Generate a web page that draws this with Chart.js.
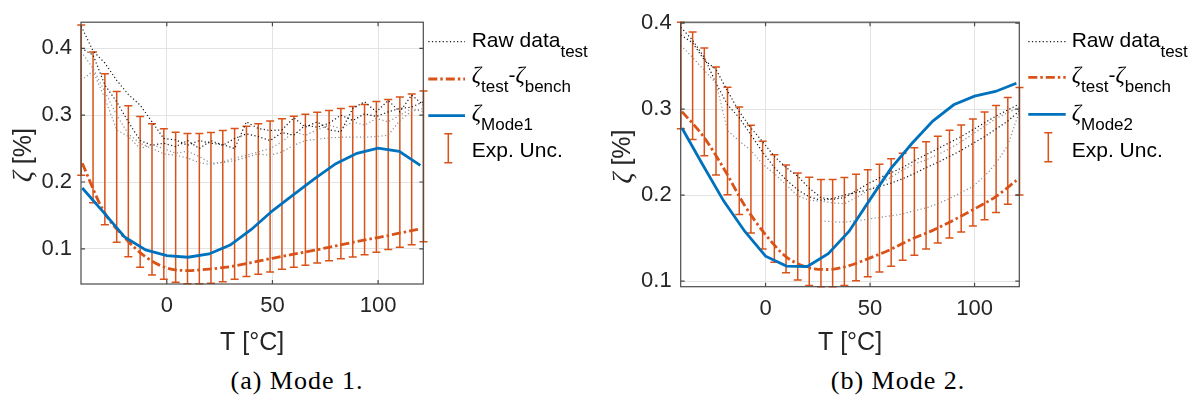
<!DOCTYPE html>
<html>
<head>
<meta charset="utf-8">
<script src="https://cdn.jsdelivr.net/npm/chart.js@4.4.1/dist/chart.umd.min.js"></script>
<style>
  html, body { margin: 0; padding: 0; background: #fff; }
  #wrap { position: relative; width: 1197px; height: 406px; overflow: hidden; }
  #wrap canvas { position: absolute; top: 0; }
  .cap {
    position: absolute; top: 368px; line-height: 26px;
    font-family: "Liberation Serif", "Times New Roman", serif;
    font-size: 26px; letter-spacing: 1px; color: #000;
    white-space: nowrap; transform: translateX(-50%);
  }
</style>
</head>
<body>
<div id="wrap">
  <canvas id="mode1" width="598" height="360" style="left:0px"></canvas>
  <canvas id="mode2" width="599" height="360" style="left:598px"></canvas>
  <div class="cap" style="left:297px">(a) Mode 1.</div>
  <div class="cap" style="left:898px">(b) Mode 2.</div>
</div>
<script>
// temperatures of the measurements / error bars
const temps = [-40.5, -34.9, -29.3, -23.7, -18.2, -12.6, -7.0, -1.4, 4.2, 9.8,
  15.4, 20.9, 26.5, 32.1, 37.7, 43.3, 48.9, 54.5, 60.1, 65.6,
  71.2, 76.8, 82.4, 88.0, 93.6, 99.2, 104.8, 110.3, 115.9, 121.5];
// temperatures of the model / difference curves
const modelTemps = [-40, -30, -20, -10, 0, 10, 20, 30, 40, 50, 60, 70, 80, 90, 100, 110, 120];

const xTicks = [0, 50, 100];
const xTickLabels = ["0", "50", "100"];
const yTicks = [0.1, 0.2, 0.3, 0.4];
const yTickLabels = ["0.1", "0.2", "0.3", "0.4"];

// Mode 1
const m1RawA = [0.433, 0.396, 0.378, 0.352, 0.331, 0.315, 0.290, 0.265, 0.263, 0.255,
  0.262, 0.258, 0.256, 0.250, 0.290, 0.280, 0.277, 0.278, 0.296, 0.282,
  0.290, 0.278, 0.275, 0.310, 0.320, 0.305, 0.322, 0.305, 0.330, 0.315];
const m1RawB = [0.352, 0.366, 0.325, 0.278, 0.268, 0.250, 0.256, 0.250, 0.243, 0.246,
  0.238, 0.228, 0.229, 0.232, 0.237, 0.242, 0.240, 0.245, 0.255, 0.262,
  0.264, 0.266, 0.267, 0.267, 0.267, 0.268, 0.270, 0.292, 0.306, 0.310];
const m1RawC = [0.400, 0.390, 0.345, 0.320, 0.290, 0.262, 0.255, 0.258, 0.253, 0.262,
  0.250, 0.262, 0.255, 0.265, 0.272, 0.268, 0.262, 0.274, 0.270, 0.285,
  0.282, 0.288, 0.300, 0.292, 0.302, 0.298, 0.305, 0.310, 0.312, 0.320];
const m1RawD = [0.395, 0.370, 0.335, 0.300, 0.272, 0.258, 0.250, 0.242, 0.240, 0.236,
  0.229, 0.226, 0.230, 0.236, 0.240, 0.245, 0.250, 0.260, 0.275, 0.270,
  0.278, 0.285, 0.280, 0.290, 0.285, 0.295, 0.290, 0.300, 0.310, 0.305];
const m1Diff = [0.228, 0.157, 0.117, 0.088, 0.0715, 0.0676, 0.0698, 0.0735, 0.0795,
  0.086, 0.092, 0.098, 0.1045, 0.111, 0.117, 0.1235, 0.130];
const m1Model = [0.191, 0.155, 0.118, 0.0985, 0.090, 0.0875, 0.0924, 0.1058, 0.129,
  0.157, 0.181, 0.205, 0.2274, 0.243, 0.2506, 0.246, 0.2249];
const m1UncHigh = [0.4347, 0.3945, 0.362, 0.3354, 0.314, 0.2978, 0.287, 0.2796, 0.2744, 0.2725,
  0.2725, 0.274, 0.277, 0.280, 0.2834, 0.287, 0.2914, 0.2948, 0.2982, 0.3012,
  0.3042, 0.3071, 0.3101, 0.3131, 0.316, 0.3205, 0.3235, 0.327, 0.3315, 0.336];
const m1UncLow = [0.210, 0.169, 0.136, 0.110, 0.0884, 0.0726, 0.061, 0.0547, 0.0503, 0.048,
  0.048, 0.0488, 0.0507, 0.0547, 0.0586, 0.0622, 0.0656, 0.0696, 0.0726, 0.0756,
  0.079, 0.0824, 0.0854, 0.088, 0.0914, 0.095, 0.099, 0.1024, 0.1063, 0.1107];

// Mode 2
const m2RawA = [0.386, 0.377, 0.357, 0.346, 0.321, 0.297, 0.278, 0.262, 0.245, 0.232,
  0.222, 0.208, 0.197, 0.195, 0.197, 0.205, 0.213, 0.220, 0.226, 0.232,
  0.240, 0.247, 0.254, 0.261, 0.268, 0.276, 0.284, 0.292, 0.299, 0.306];
const m2RawB = [0.374, 0.360, 0.345, 0.330, 0.275, 0.263, 0.252, 0.236, 0.225, 0.212,
  0.199, 0.194, 0.193, 0.191, 0.190, 0.197, 0.205, 0.213, 0.221, 0.229,
  0.236, 0.241, 0.247, 0.254, 0.262, 0.271, 0.280, 0.289, 0.296, 0.302];
const m2RawC = [0.395, 0.380, 0.360, 0.330, 0.305, 0.290, 0.270, 0.250, 0.232, 0.218,
  0.206, 0.198, 0.194, 0.196, 0.200, 0.203, 0.206, 0.210, 0.214, 0.219,
  0.225, 0.232, 0.238, 0.245, 0.252, 0.260, 0.268, 0.277, 0.286, 0.298];
const m2RawD = [null, null, null, null, null, null, null, null, null, null,
  null, null, 0.170, 0.169, 0.1685, 0.170, 0.172, 0.174, 0.176, 0.178,
  0.182, 0.185, 0.190, 0.196, 0.203, 0.210, 0.222, 0.237, 0.258, 0.298];
const m2Diff = [0.297, 0.269, 0.231, 0.188, 0.154, 0.128, 0.116, 0.1135, 0.118,
  0.127, 0.137, 0.149, 0.159, 0.171, 0.184, 0.198, 0.217];
const m2Model = [0.278, 0.235, 0.193, 0.158, 0.129, 0.1175, 0.117, 0.132, 0.158,
  0.195, 0.231, 0.260, 0.286, 0.305, 0.315, 0.3205, 0.330];
const m2UncHigh = [0.401, 0.3896, 0.371, 0.3488, 0.3254, 0.3023, 0.2812, 0.2627, 0.247, 0.235,
  0.2258, 0.2208, 0.2181, 0.2181, 0.2204, 0.2243, 0.2296, 0.2358, 0.2423, 0.2485,
  0.255, 0.262, 0.2685, 0.2754, 0.2815, 0.2885, 0.2965, 0.3042, 0.3135, 0.325];
const m2UncLow = [0.277, 0.2646, 0.2458, 0.2235, 0.2004, 0.1774, 0.156, 0.1374, 0.122, 0.1097,
  0.1012, 0.095, 0.0935, 0.0935, 0.095, 0.1005, 0.105, 0.1105, 0.1174, 0.1243,
  0.130, 0.1374, 0.1443, 0.150, 0.157, 0.164, 0.1712, 0.1797, 0.1893, 0.200];

const ORANGE = "#D95319";
const BLUE = "#0072BD";
const AXIS = "#262626";
const SANS = '"Liberation Sans", Arial, Helvetica, sans-serif';
const SERIF = '"Liberation Serif", "Times New Roman", serif';
const DASHDOT = [9, 3, 2.5, 3];
const DOTTED = [1.2, 2.4];

Chart.defaults.font.family = SANS;
Chart.defaults.color = AXIS;

const pts = (xs, ys) => xs.map((x, i) => ({ x, y: ys[i] }));

// text pieces: plain, subscript, or greek (serif italic)
function fontFor(p, size) {
  if (p.sub) return "17px " + SANS;
  if (p.greek) return "italic " + (size + 2) + "px " + SERIF;
  return size + "px " + SANS;
}
function richText(ctx, parts, x, y, size) {
  let cx = x;
  for (const p of parts) {
    ctx.font = fontFor(p, size);
    ctx.fillText(p.t, cx, p.sub ? y + 10 : y);
    cx += ctx.measureText(p.t).width;
  }
  return cx - x;
}
function richWidth(ctx, parts, size) {
  let w = 0;
  for (const p of parts) { ctx.font = fontFor(p, size); w += ctx.measureText(p.t).width; }
  return w;
}

function makeChart(id, cfg) {
  const rawColors = ["#1a1a1a", "#8c8c8c", "#1a1a1a", "#8c8c8c"];
  const rawSets = cfg.raw.map((r, i) => ({
    data: pts(temps, r),
    borderColor: rawColors[i],
    borderWidth: 1.2,
    borderDash: DOTTED,
    spanGaps: false
  }));

  const chartPlugin = {
    id: "matlabLook",
    beforeDatasetsDraw(chart) {
      const { ctx, scales: { x, y } } = chart;
      ctx.save();
      ctx.strokeStyle = ORANGE;
      ctx.lineWidth = 1.5;
      temps.forEach((t, i) => {
        const px = x.getPixelForValue(t);
        const pHi = y.getPixelForValue(cfg.high[i]);
        const pLo = y.getPixelForValue(cfg.low[i]);
        ctx.beginPath();
        ctx.moveTo(px, pHi); ctx.lineTo(px, pLo);
        ctx.moveTo(px - 4, pHi); ctx.lineTo(px + 4, pHi);
        ctx.moveTo(px - 4, pLo); ctx.lineTo(px + 4, pLo);
        ctx.stroke();
      });
      ctx.restore();
    },
    afterDraw(chart) {
      const { ctx, chartArea: a, scales: { x, y } } = chart;
      ctx.save();
      // box and inward ticks
      ctx.strokeStyle = "#4a4a4a";
      ctx.lineWidth = 1.2;
      ctx.strokeRect(a.left, a.top, a.right - a.left, a.bottom - a.top);
      ctx.beginPath();
      yTicks.forEach(v => {
        const py = y.getPixelForValue(v);
        ctx.moveTo(a.left, py); ctx.lineTo(a.left + 4, py);
        ctx.moveTo(a.right, py); ctx.lineTo(a.right - 4, py);
      });
      xTicks.forEach(v => {
        const px = x.getPixelForValue(v);
        ctx.moveTo(px, a.bottom); ctx.lineTo(px, a.bottom - 4);
        ctx.moveTo(px, a.top); ctx.lineTo(px, a.top + 4);
      });
      ctx.stroke();

      // y axis title, rotated
      const yTitle = [{ t: "ζ", greek: true }, { t: " [%]" }];
      ctx.save();
      ctx.fillStyle = AXIS;
      ctx.textBaseline = "middle";
      ctx.translate(cfg.yTitleX, (a.top + a.bottom) / 2 + 2);
      ctx.rotate(-Math.PI / 2);
      richText(ctx, yTitle, -richWidth(ctx, yTitle, 25) / 2, 0, 25);
      ctx.restore();

      // legend
      const L = cfg.legend;
      ctx.lineWidth = 1.2;
      ctx.strokeStyle = "#1a1a1a";
      ctx.setLineDash(DOTTED);
      ctx.beginPath(); ctx.moveTo(L.x0, 41.7); ctx.lineTo(L.x1, 41.7); ctx.stroke();
      ctx.strokeStyle = ORANGE; ctx.lineWidth = 2.8;
      ctx.setLineDash(DASHDOT);
      ctx.beginPath(); ctx.moveTo(L.x0, L.y2); ctx.lineTo(L.x1, L.y2); ctx.stroke();
      ctx.setLineDash([]);
      ctx.strokeStyle = BLUE;
      ctx.beginPath(); ctx.moveTo(L.x0, L.y3); ctx.lineTo(L.x1, L.y3); ctx.stroke();
      const ex = L.x0 + 20;
      ctx.strokeStyle = ORANGE; ctx.lineWidth = 1.5;
      ctx.beginPath();
      ctx.moveTo(ex, L.e0); ctx.lineTo(ex, L.e1);
      ctx.moveTo(ex - 4, L.e0); ctx.lineTo(ex + 4, L.e0);
      ctx.moveTo(ex - 4, L.e1); ctx.lineTo(ex + 4, L.e1);
      ctx.stroke();

      ctx.fillStyle = "#000";
      ctx.textBaseline = "alphabetic";
      ctx.textAlign = "left";
      richText(ctx, [{ t: "Raw data" }, { t: "test", sub: true }], L.tx, 46.7, 21);
      richText(ctx, [{ t: "ζ", greek: true }, { t: "test", sub: true }, { t: "-" },
        { t: "ζ", greek: true }, { t: "bench", sub: true }], L.tx, 82, 21);
      richText(ctx, [{ t: "ζ", greek: true }, { t: cfg.modeName, sub: true }], L.tx, 119.5, 21);
      richText(ctx, [{ t: "Exp. Unc." }], L.tx, 156.7, 21);
      ctx.restore();
    }
  };

  return new Chart(document.getElementById(id), {
    type: "line",
    data: {
      datasets: [
        {
          data: pts(modelTemps, cfg.model),
          borderColor: BLUE,
          borderWidth: 2.8
        },
        {
          data: pts(modelTemps, cfg.diff),
          borderColor: ORANGE,
          borderWidth: 2.8,
          borderDash: DASHDOT,
          cubicInterpolationMode: "monotone"
        },
        ...rawSets
      ]
    },
    options: {
      responsive: false,
      animation: false,
      devicePixelRatio: 1,
      layout: { padding: cfg.padding },
      elements: { point: { radius: 0 }, line: { tension: 0 } },
      plugins: { legend: { display: false }, tooltip: { enabled: false } },
      scales: {
        x: {
          type: "linear",
          min: -40.6,
          max: 121.4,
          afterBuildTicks: s => { s.ticks = xTicks.map(v => ({ value: v })); },
          afterFit: s => { s.height = cfg.xHeight; },
          grid: { color: "#e3e3e3", drawTicks: false },
          border: { display: false },
          ticks: {
            padding: 9,
            font: { size: 22 },
            color: AXIS,
            callback: (v, i) => xTickLabels[i]
          },
          title: {
            display: true,
            text: "T [°C]",
            font: { size: 25 },
            color: AXIS,
            padding: { top: 0, bottom: 2 }
          }
        },
        y: {
          min: cfg.yMin,
          max: cfg.yMax,
          afterBuildTicks: s => { s.ticks = yTicks.map(v => ({ value: v })); },
          afterFit: s => { s.width = cfg.yWidth; },
          grid: { color: "#e3e3e3", drawTicks: false },
          border: { display: false },
          ticks: {
            padding: 9,
            font: { size: 22 },
            color: AXIS,
            callback: (v, i) => yTickLabels[i]
          },
          title: { display: false }
        }
      }
    },
    plugins: [chartPlugin]
  });
}

makeChart("mode1", {
  raw: [m1RawA, m1RawB, m1RawC, m1RawD],
  diff: m1Diff, model: m1Model, high: m1UncHigh, low: m1UncLow,
  modeName: "Mode1",
  yMin: 0.0475, yMax: 0.439,
  padding: { left: 0, right: 174.7, top: 21.5, bottom: 0 },
  yWidth: 81, xHeight: 76, yTitleX: 24,
  legend: { x0: 428.3, x1: 465, tx: 471.7, y2: 79, y3: 115.7, e0: 133.7, e1: 162.7 }
});

makeChart("mode2", {
  raw: [m2RawA, m2RawB, m2RawC, m2RawD],
  diff: m2Diff, model: m2Model, high: m2UncHigh, low: m2UncLow,
  modeName: "Mode2",
  yMin: 0.0935, yMax: 0.401,
  padding: { left: 0, right: 177.7, top: 20, bottom: 0 },
  yWidth: 82.7, xHeight: 73.3, yTitleX: 25.5,
  legend: { x0: 430.3, x1: 467.7, tx: 473.7, y2: 77.3, y3: 114.3, e0: 132.7, e1: 161.7 }
});
</script>
</body>
</html>
